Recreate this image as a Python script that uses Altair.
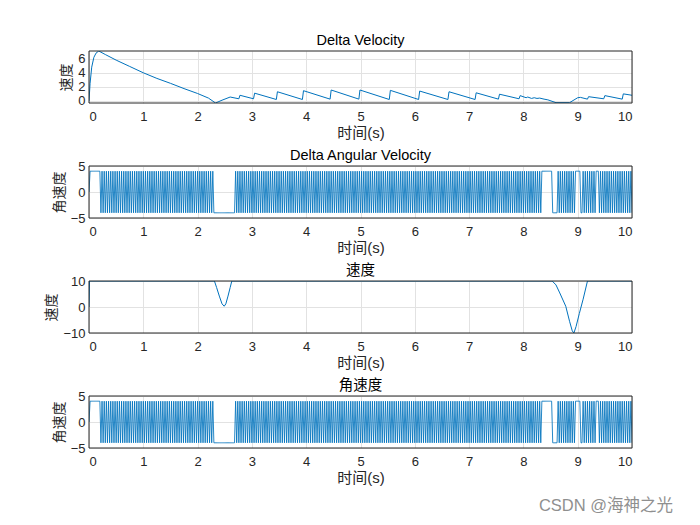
import altair as alt
import pandas as pd

# ---------------- data ----------------
# Panel 1: Delta Velocity
dv_t = [0.00, 0.02, 0.05, 0.09, 0.13, 0.18, 0.30, 0.50, 0.75, 1.00, 1.25, 1.50, 1.75, 2.00, 2.20,
        2.33, 2.45, 2.60, 2.76, 2.78, 3.03, 3.05, 3.45, 3.47, 3.93, 3.95, 4.44, 4.46, 4.97, 4.99,
        5.53, 5.55, 6.07, 6.09, 6.61, 6.63, 7.11, 7.13, 7.54, 7.56, 7.92, 7.94, 8.05, 8.08, 8.15,
        8.20, 8.25, 8.30, 8.38, 8.45, 8.60, 8.85, 9.00, 9.05, 9.18, 9.20, 9.48, 9.50, 9.82, 9.84, 10.00]
dv_v = [0.0, 2.5, 4.8, 6.2, 6.8, 7.1, 6.6, 5.8, 4.9, 4.0, 3.2, 2.5, 1.75, 1.05, 0.4,
        -0.3, 0.1, 0.55, 0.3, 0.8, 0.3, 1.1, 0.2, 1.3, 0.2, 1.45, 0.25, 1.55, 0.25, 1.55,
        0.2, 1.5, 0.2, 1.4, 0.2, 1.3, 0.2, 1.15, 0.25, 0.95, 0.3, 0.75, 0.45, 0.55, 0.35,
        0.45, 0.35, 0.40, 0.25, 0.15, -0.25, -0.25, 0.45, 0.5, 0.25, 0.6, 0.3, 0.75, 0.25, 1.0, 0.8]

# Panel 3: 速度
sp_t = [0.0, 0.01, 2.31, 2.35, 2.40, 2.45, 2.49, 2.52, 2.56, 2.60, 2.63,
        8.53, 8.60, 8.67, 8.78, 8.85, 8.90, 8.93, 8.97, 9.03, 9.10, 9.18, 10.0]
sp_v = [0, 10, 10, 7.5, 4.2, 1.2, 0.3, 1.2, 4.2, 7.5, 10,
        10, 8.5, 5.4, 0.3, -5.5, -9.2, -10, -7.5, -2.5, 3.0, 10, 10]

# Panels 2 and 4: angular velocity samples, one line per second, step 0.02 s
# '+' = +4, '-' = -4, '0' = 0
ang_dt = 0.02
ang_lines = [
    "0++++++++++" "-+-+-+-+-+" "-+-+-+-+-+" "-+-+-+-+-+" "-+-+-+-+-",
    "+-+-+-+-+-" "+-+-+-+-+-" "+-+-+-+-+-" "+-+-+-+-+-" "+-+-+-+-+-",
    "+-+-+-+-+-" "+-+-+-" "----------" "---------" "+-+-+-+-+-" "+-+-+",
    "-+-+-+-+-+" "-+-+-+-+-+" "-+-+-+-+-+" "-+-+-+-+-+" "-+-+-+-+-+",
    "-+-+-+-+-+" "-+-+-+-+-+" "-+-+-+-+-+" "-+-+-+-+-+" "-+-+-+-+-+",
    "-+-+-+-+-+" "-+-+-+-+-+" "-+-+-+-+-+" "-+-+-+-+-+" "-+-+-+-+-+",
    "-+-+-+-+-+" "-+-+-+-+-+" "-+-+-+-+-+" "-+-+-+-+-+" "-+-+-+-+-+",
    "-+-+-+-+-+" "-+-+-+-+-+" "-+-+-+-+-+" "-+-+-+-+-+" "-+-+-+-+-+",
    "-+-+-+-+-+" "-+-+-+-+" "+++++++++" "-----" "+-+-+-+-+-" "+-+-+-" "++",
    "+++" "--" "+-+-+-+-+-" "+-" "+++" "-+-+-+-+-+" "-+-+-+-+-+" "-+-+-+-+-+",
    "-",
]
ang_levels = {"+": 4, "-": -4, "0": 0}

titles = ["Delta Velocity", "Delta Angular Velocity", "速度", "角速度"]
ytitles = ["速度", "角速度", "速度", "角速度"]
xtitle = "时间(s)"
x_ticks = [0, 1, 2, 3, 4, 5, 6, 7, 8, 9, 10]
y_domains = [[-0.3, 7.1], [-5, 5], [-10, 10], [-5, 5]]
y_ticks = [[0, 2, 4, 6], [-5, 0, 5], [-10, 0, 10], [-5, 0, 5]]
watermark = "CSDN @海神之光"

# ---------------- build ----------------
ang_str = "".join(ang_lines)
ang_df = pd.DataFrame({"t": [i * ang_dt for i in range(len(ang_str))],
                       "v": [ang_levels[c] for c in ang_str]})
frames = [
    pd.DataFrame({"t": dv_t, "v": dv_v}),
    ang_df,
    pd.DataFrame({"t": sp_t, "v": sp_v}),
    ang_df,
]
widths = [1, 0.85, 1, 0.85]

FONT = "Liberation Sans, Noto Sans CJK SC, sans-serif"
TXT = "#262626"
GRID = "#e2e2e2"
LINE = "#0072BD"
W, H = 543, 52


def panel(i):
    xaxis = alt.Axis(title=xtitle, values=x_ticks, format="d", grid=True, gridColor=GRID,
                     domain=False, ticks=False, labelFont=FONT, labelFontSize=13,
                     labelColor=TXT, titleFont=FONT, titleFontSize=15, titleColor=TXT,
                     titleFontWeight="normal", labelPadding=7, titlePadding=2)
    yaxis = alt.Axis(title=ytitles[i], values=y_ticks[i], format="d", grid=True, gridColor=GRID,
                     domain=False, ticks=False, labelFont=FONT, labelFontSize=13,
                     labelColor=TXT, titleFont=FONT, titleFontSize=14, titleColor=TXT,
                     titleFontWeight="normal", labelPadding=4, titlePadding=4)
    line = alt.Chart(frames[i]).mark_line(color=LINE, strokeWidth=widths[i], clip=True).encode(
        x=alt.X("t:Q", scale=alt.Scale(domain=[0, 10], nice=False, zero=False), axis=xaxis),
        y=alt.Y("v:Q", scale=alt.Scale(domain=y_domains[i], nice=False, zero=False), axis=yaxis),
        order="t:Q",
    )
    box = alt.Chart(pd.DataFrame({"k": [0]})).mark_rect(
        fill=None, fillOpacity=0, stroke=TXT, strokeWidth=1
    ).encode(x=alt.value(0), x2=alt.value(W), y=alt.value(0), y2=alt.value(H))
    ttl = alt.Chart(pd.DataFrame({"s": [titles[i]]})).mark_text(
        font=FONT, fontSize=14.5, color="#000000", align="center", baseline="middle"
    ).encode(x=alt.value(W / 2), y=alt.value(-10), text="s:N")
    layers = [line, box, ttl]
    if i == 3:
        wm = alt.Chart(pd.DataFrame({"s": [watermark]})).mark_text(
            font=FONT, fontSize=16.5, color="#8f8f8f", align="center", baseline="middle"
        ).encode(x=alt.value(517), y=alt.value(110), text="s:N")
        layers.append(wm)
    return alt.layer(*layers).properties(width=W, height=H)


chart = alt.vconcat(*[panel(i) for i in range(4)], spacing=63, bounds="flush").properties(
    padding={"left": 36, "top": 25, "right": 0, "bottom": 0},
    background="white",
).configure_view(stroke=None)

chart.save("out.html", embed_options={"renderer": "svg", "actions": False})
